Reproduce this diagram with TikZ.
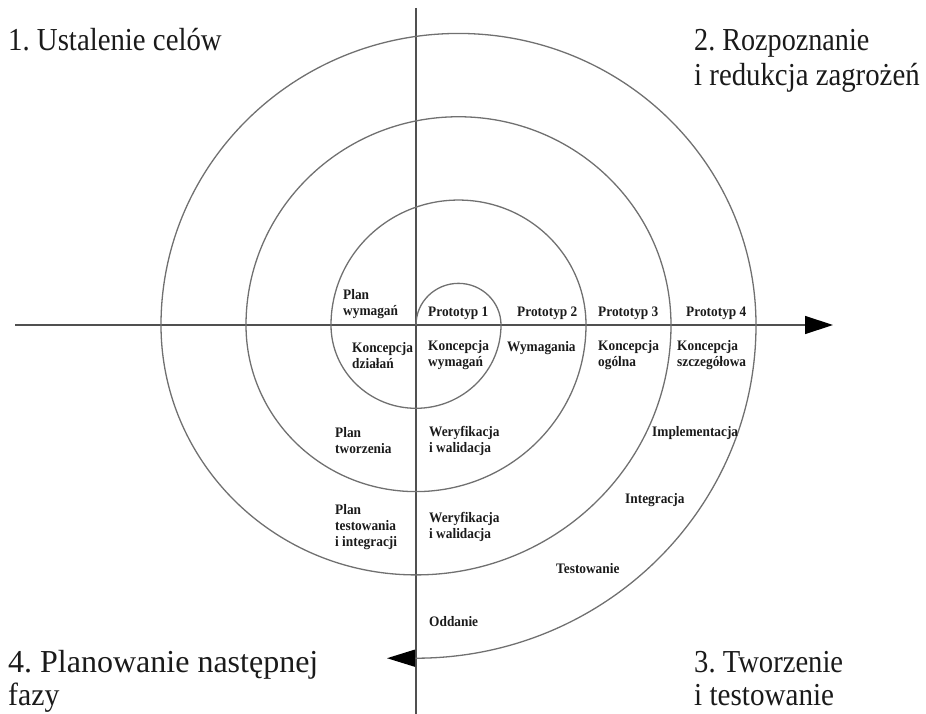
\documentclass[tikz,border=0pt]{standalone}
\usepackage{graphicx}
\usepackage{fontspec}
\setmainfont{Liberation Serif}
\newfontfamily\labelfont[FakeStretch=0.92]{Liberation Serif}
\usetikzlibrary{arrows.meta}
\definecolor{curvegray}{HTML}{707070}
\definecolor{axisgray}{HTML}{505050}
\definecolor{ink}{HTML}{1A1A1A}
\frenchspacing
% horizontally condensed title line
\newcommand{\narrowline}[2]{\scalebox{#1}[1]{#2}}
\begin{document}
\begin{tikzpicture}[x=1pt,y=1pt,
  spiral/.style={draw=curvegray, line width=1.3pt},
  axisline/.style={draw=axisgray, line width=1.3pt},
  bigtip/.style={-{Triangle[length=28pt,width=18pt,color=black]}},
  lbl/.style={inner sep=0pt, anchor=west, align=left, text=ink,
    font=\labelfont\bfseries\fontsize{14.5}{16}\selectfont},
  phase/.style={inner sep=0pt, anchor=base west, text=ink,
    font=\fontsize{32}{35}\selectfont}]
\useasboundingbox (0,0) rectangle (926,-714);

% axes
\coordinate (xl) at (15,-325);
\coordinate (xr) at (833,-325);
\coordinate (yt) at (416,-8);
\coordinate (yb) at (416,-714);
\draw[axisline, bigtip] (xl) -- (xr);
\draw[axisline] (yt) -- (yb);

% spiral of half-ellipses: upper halves around (458.5,-325), lower halves around (416,-325)
\coordinate (O) at (416,-325);
\draw[spiral, -{Triangle[length=28pt,width=17pt,color=black]}] (O)
  arc[start angle=180, end angle=0,   x radius=42.5pt,  y radius=41.65pt]
  arc[start angle=0,   end angle=-180, x radius=85pt,    y radius=83.3pt]
  arc[start angle=180, end angle=0,   x radius=127.5pt, y radius=124.95pt]
  arc[start angle=0,   end angle=-180, x radius=170pt,   y radius=166.6pt]
  arc[start angle=180, end angle=0,   x radius=212.5pt, y radius=208.25pt]
  arc[start angle=0,   end angle=-180, x radius=255pt,   y radius=249.9pt]
  arc[start angle=180, end angle=0,   x radius=297.5pt, y radius=291.55pt]
  arc[start angle=0,   end angle=-90,  x radius=340pt,   y radius=333.2pt]
  coordinate (send) -- ++(-29,0) coordinate (stip);

% phase titles, one node per line
\node[phase] (q1)  at (8,-51)   {\narrowline{0.90}{1. Ustalenie celów}};
\node[phase] (q2a) at (694,-51) {\narrowline{0.88}{2. Rozpoznanie}};
\node[phase] (q2b) at (694,-86) {\narrowline{0.90}{i redukcja zagrożeń}};
\node[phase] (q4a) at (8,-672)  {\narrowline{1.0}{4. Planowanie następnej}};
\node[phase] (q4b) at (8,-705)  {\narrowline{0.93}{fazy}};
\node[phase] (q3a) at (694,-672) {\narrowline{0.894}{3. Tworzenie}};
\node[phase] (q3b) at (694,-705) {\narrowline{0.91}{i testowanie}};

% activities along the spiral
\node[lbl] (planwym) at (343,-304) {Plan\\wymagań};
\node[lbl] (p1) at (428,-313) {Prototyp 1};
\node[lbl] (p2) at (517,-313) {Prototyp 2};
\node[lbl] (p3) at (598,-313) {Prototyp 3};
\node[lbl] (p4) at (686,-313) {Prototyp 4};
\node[lbl] (kdz) at (352,-355.5) {Koncepcja\\działań};
\node[lbl] (kwym) at (428,-355.5) {Koncepcja\\wymagań};
\node[lbl] (wym) at (507,-348) {Wymagania};
\node[lbl] (kog) at (598,-355.5) {Koncepcja\\ogólna};
\node[lbl] (ksz) at (677,-355.5) {Koncepcja\\szczegółowa};
\node[lbl] (pltw) at (335,-441) {Plan\\tworzenia};
\node[lbl] (wer1) at (429,-441) {Weryfikacja\\i walidacja};
\node[lbl] (plte) at (335,-527) {Plan\\testowania\\i integracji};
\node[lbl] (wer2) at (429,-527) {Weryfikacja\\i walidacja};
\node[lbl] (impl) at (652,-433) {Implementacja};
\node[lbl] (integ) at (625,-500) {Integracja};
\node[lbl] (testw) at (556,-569) {Testowanie};
\node[lbl] (odd) at (429,-622) {Oddanie};
\end{tikzpicture}
\end{document}
